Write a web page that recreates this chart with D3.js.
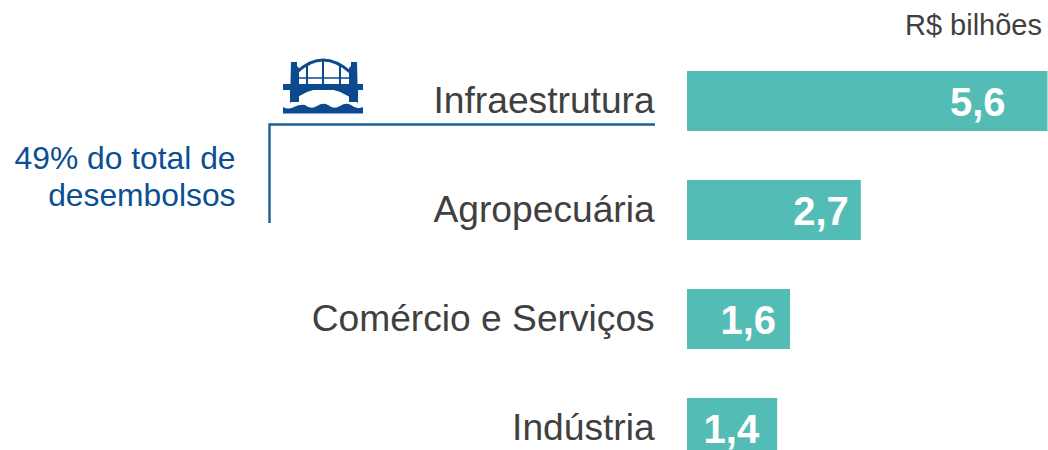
<!DOCTYPE html>
<html><head><meta charset="utf-8">
<script src="https://cdnjs.cloudflare.com/ajax/libs/d3/7.8.5/d3.min.js"></script>
<style>html,body{margin:0;padding:0;background:#fff;overflow:hidden}svg{display:block}text{font-family:"Liberation Sans",Arial,sans-serif}</style>
</head><body><svg id="c" width="1048" height="450"></svg>
<script>
const categories = ["Infraestrutura","Agropecuária","Comércio e Serviços","Indústria"];
const values = [5.6,2.7,1.6,1.4];
const unitLabel = "R$ bilhões";
const noteLines = ["49% do total de","desembolsos"];

const svg = d3.select("#c");
const x = d3.scaleLinear().domain([0,5.6]).range([687,1047.5]);
const y = d3.scaleBand().domain(categories).range([71,458]).paddingInner(49/109).paddingOuter(0);
const fmt = v => d3.format(".1f")(v).replace(".",",");
const labelInset = [42,12,14,18];

svg.selectAll("rect.bar").data(values).join("rect").attr("class","bar")
  .attr("x",x(0)).attr("y",(d,i)=>y(categories[i])).attr("width",d=>x(d)-x(0)).attr("height",y.bandwidth()).attr("fill","#53bcb5");

svg.selectAll("text.cat").data(categories).join("text").attr("class","cat")
  .attr("x",654.7).attr("y",d=>y(d)+y.bandwidth()/2+12).attr("text-anchor","end")
  .attr("font-size",37.2).attr("fill","#404040").text(d=>d);

svg.selectAll("text.val").data(values).join("text").attr("class","val")
  .attr("x",(d,i)=>x(d)-labelInset[i]).attr("y",(d,i)=>y(categories[i])+y.bandwidth()/2+15)
  .attr("text-anchor","end").attr("font-size",40).attr("font-weight","bold").attr("fill","#fff").text(fmt);

svg.append("text").attr("x",1042).attr("y",35).attr("text-anchor","end").attr("font-size",29).attr("fill","#404040").text(unitLabel);

svg.selectAll("text.note").data(noteLines).join("text").attr("class","note")
  .attr("x",235.5).attr("y",(d,i)=>169+i*37).attr("text-anchor","end").attr("font-size",31.8).attr("fill","#0b4f93").text(d=>d);

svg.append("path").attr("d","M655,124.5H269.5V223").attr("fill","none").attr("stroke","#1a5f96").attr("stroke-width",2.4);

// bridge icon
const blue="#0b4a8f";
const icon = svg.append("g").attr("fill",blue);
icon.append("path").attr("d","M291,62h6v4l2,2v34h-9zM357,62h-6v4l-2,2v34h9z");
icon.append("path").attr("d","M283,84H363V90H283z");
icon.append("path").attr("d","M297,72Q323,48 350,72").attr("fill","none").attr("stroke",blue).attr("stroke-width",3);
icon.append("path").attr("d","M297,78H350").attr("stroke",blue).attr("stroke-width",1.5).attr("fill","none");
icon.append("path").attr("d","M307,64V86M323,60V86M340,64V86").attr("stroke",blue).attr("stroke-width",2).attr("fill","none");
icon.append("path").attr("d","M290,90H358V103Q323,74 290,103Z");
icon.append("path").attr("d","M283,107Q288,110 294,107T305,105Q311,110 317,106T328,105Q334,110 340,106T351,105Q357,110 363,107V113.5H283Z");
</script></body></html>
